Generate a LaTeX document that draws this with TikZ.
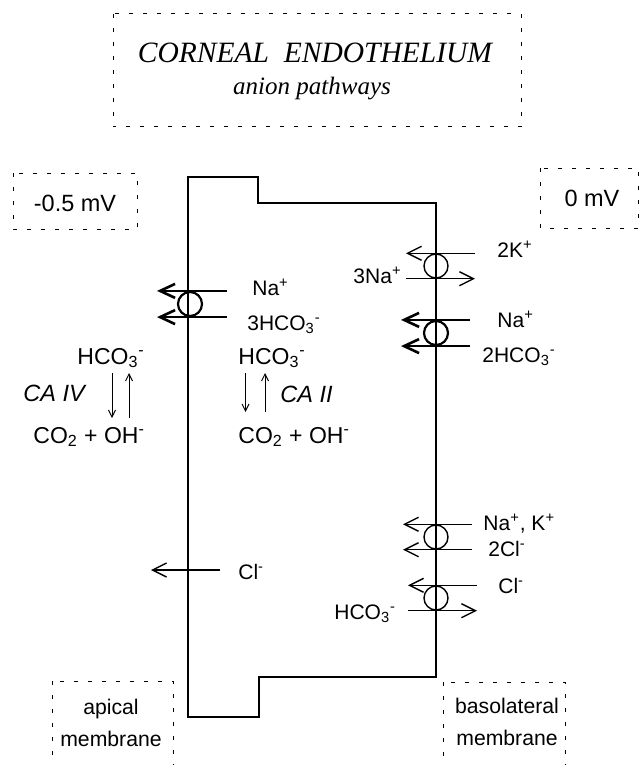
\documentclass[tikz,border=0pt]{standalone}
\usepackage{fontspec}
\setmainfont{Liberation Sans}
\newfontfamily\titlefont{Liberation Serif}
\usetikzlibrary{calc,arrows.meta}
\newcommand{\hcoiii}{HCO\textsubscript{3}\textsuperscript{-}}

\begin{document}
\begin{tikzpicture}[x=0.5pt, y=-0.5pt,
    membrane/.style={line width=0.7pt},
    frame/.style={line width=0.5pt, dash pattern=on 2pt off 5pt},
    carrier/.style={draw, circle, line width=0.7pt, minimum size=12pt, inner sep=0pt},
    flux/.style={line width=0.7pt, -{Straight Barb[length=7pt,width=7pt]}},
    bigflux/.style={line width=1.3pt, -{Straight Barb[length=7.5pt,width=7pt]}},
    react/.style={line width=0.5pt, -{Straight Barb[length=3.5pt,width=3.5pt]}},
    ion/.style={inner sep=0pt, font=\fontsize{10.5}{12}\selectfont},
    chem/.style={inner sep=0pt, font=\fontsize{11.5}{13}\selectfont},
    volt/.style={inner sep=0pt, anchor=base, font=\fontsize{11.75}{13}\selectfont},
    side/.style={inner sep=0pt, anchor=base, font=\fontsize{10.6}{12}\selectfont}]
    \useasboundingbox (0,0) rectangle (642,765);
    \clip (0,0) rectangle (642,765);

    % cell outline
    \draw[membrane] (188,177) -- (258,177) -- (258,203) -- (436,203) -- (436,677)
        -- (259,677) -- (259,717) -- (188,717) -- cycle;

    % title and side boxes
    \draw[frame] (113,14) rectangle (521,127);
    \node[inner sep=0pt, anchor=base, font=\titlefont\itshape\fontsize{14.75}{16}\selectfont]
        (title) at (315,63) {CORNEAL~~ENDOTHELIUM};
    \node[inner sep=0pt, anchor=base, font=\titlefont\itshape\fontsize{12.5}{14}\selectfont]
        (subtitle) at (312,95) {anion pathways};
    \draw[frame] (13,173) rectangle (137,229);
    \node[volt] (apvolt) at (75,211.5) {-0.5 mV};
    \draw[frame] (540,168) rectangle (638,228);
    \node[volt] (blvolt) at (592,206.5) {0 mV};
    \draw[frame] (52,681) rectangle (173,790);
    \node[side] (aplbl) at (111,714) {apical};
    \node[side] (apmem) at (111,746) {membrane};
    \draw[frame] (443,682) rectangle (565,790);
    \node[side] (bllbl) at (507,713) {basolateral};
    \node[side] (blmem) at (507,745) {membrane};

    % apical Na+/HCO3- cotransporter
    \node[carrier, line width=1.1pt] (nbcap) at (190,304) {};
    \draw[bigflux] ($(nbcap.north)+(37,0)$) -- ($(nbcap.north)+(-33,0)$);
    \draw[bigflux] ($(nbcap.south)+(37,0)$) -- ($(nbcap.south)+(-33,0)$);
    \node[ion, anchor=base west] (nbcapna) at (252,295) {Na\textsuperscript{+}};
    \node[ion, anchor=base west] (nbcaphco) at (247,330) {3\hcoiii};

    % carbonic anhydrase reactions
    \node[chem, anchor=base west] (hcoex) at (77,364) {\hcoiii};
    \node[chem, anchor=base west, font=\fontsize{11.75}{13}\selectfont\itshape] (caivlbl) at (23,401) {CA IV};
    \node[chem, anchor=base west] (coex) at (33,443) {CO\textsubscript{2} + OH\textsuperscript{-}};
    \coordinate (caiv) at (121,373);
    \draw[react] ($(caiv)+(-9,0)$) -- ($(caiv)+(-9,45)$);
    \draw[react] ($(caiv)+(8,45)$) -- ($(caiv)+(8,0)$);
    \node[chem, anchor=base west] (hcoin) at (238,364) {\hcoiii};
    \node[chem, anchor=base west, font=\fontsize{11.75}{13}\selectfont\itshape] (caiilbl) at (280,402) {CA II};
    \node[chem, anchor=base west] (coin) at (238,443) {CO\textsubscript{2} + OH\textsuperscript{-}};
    \coordinate (caii) at (255,373);
    \draw[react] ($(caii)+(-9.5,0)$) -- ($(caii)+(-9.5,39)$);
    \draw[react] ($(caii)+(10,39)$) -- ($(caii)+(10,0)$);

    % Na+/K+ pump
    \node[carrier] (nak) at (436,266) {};
    \draw[flux] ($(nak.north)+(39,0)$) -- ($(nak.north)+(-30,0)$);
    \draw[flux] ($(nak.south)+(-30,0)$) -- ($(nak.south)+(39,0)$);
    \node[ion, anchor=base west] (nakk) at (497,257) {2K\textsuperscript{+}};
    \node[ion, anchor=base east] (nakna) at (402,283) {3Na\textsuperscript{+}};

    % basolateral Na+/HCO3- cotransporter
    \node[carrier, line width=1.1pt] (nbcbl) at (436,333) {};
    \draw[bigflux] ($(nbcbl.north)+(34,0)$) -- ($(nbcbl.north)+(-35,0)$);
    \draw[bigflux] ($(nbcbl.south)+(34,0)$) -- ($(nbcbl.south)+(-35,0)$);
    \node[ion, anchor=base west] (nbcblna) at (497,327) {Na\textsuperscript{+}};
    \node[ion, anchor=base west] (nbcblhco) at (482,362) {2\hcoiii};

    % Na+/K+/2Cl- cotransporter
    \node[carrier] (nkcc) at (436,537) {};
    \draw[flux] ($(nkcc.north)+(36,0)$) -- ($(nkcc.north)+(-33,0)$);
    \draw[flux] ($(nkcc.south)+(36,0)$) -- ($(nkcc.south)+(-33,0)$);
    \node[ion, anchor=base west] (nkccnak) at (483,530) {Na\textsuperscript{+}, K\textsuperscript{+}};
    \node[ion, anchor=base west] (nkcccl) at (488,556) {2Cl\textsuperscript{-}};

    % Cl-/HCO3- exchanger
    \node[carrier] (ae) at (436,598) {};
    \draw[flux] ($(ae.north)+(41,0)$) -- ($(ae.north)+(-28,0)$);
    \draw[flux] ($(ae.south)+(-28,0)$) -- ($(ae.south)+(41,0)$);
    \node[ion, anchor=base west] (aecl) at (498,593) {Cl\textsuperscript{-}};
    \node[ion, anchor=base west] (aehco) at (334,619) {\hcoiii};

    % apical Cl- channel
    \coordinate (clch) at (188,570);
    \draw[flux] ($(clch)+(32,0)$) -- ($(clch)+(-37,0)$);
    \node[ion, anchor=base west] (clap) at (238,579) {Cl\textsuperscript{-}};
\end{tikzpicture}
\end{document}
